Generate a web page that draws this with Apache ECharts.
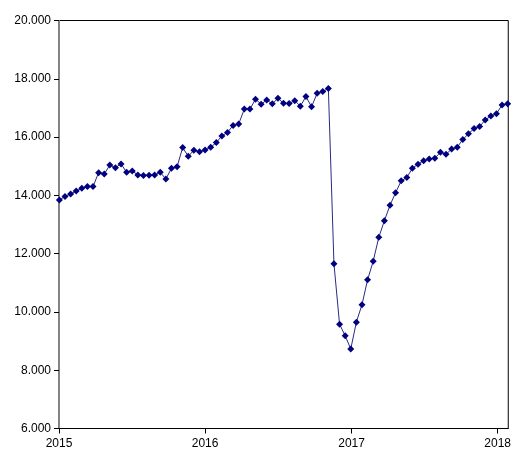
<!DOCTYPE html>
<html>
<head>
<meta charset="utf-8">
<script src="https://cdn.jsdelivr.net/npm/echarts@6/dist/echarts.min.js"></script>
<style>html,body{margin:0;padding:0;background:#fff}#c{width:514px;height:453px}</style>
</head>
<body>
<div id="c"></div>
<script>
const dates = [
 '2015-01-02','2015-01-16','2015-01-30','2015-02-13','2015-02-27','2015-03-13','2015-03-27','2015-04-10','2015-04-24','2015-05-08',
 '2015-05-22','2015-06-05','2015-06-19','2015-07-03','2015-07-17','2015-07-31','2015-08-14','2015-08-28','2015-09-11','2015-09-25',
 '2015-10-09','2015-10-23','2015-11-06','2015-11-20','2015-12-04','2015-12-18','2016-01-01','2016-01-15','2016-01-29','2016-02-12',
 '2016-02-26','2016-03-11','2016-03-25','2016-04-08','2016-04-22','2016-05-06','2016-05-20','2016-06-03','2016-06-17','2016-07-01',
 '2016-07-15','2016-07-29','2016-08-12','2016-08-26','2016-09-09','2016-09-23','2016-10-07','2016-10-21','2016-11-04','2016-11-18',
 '2016-12-02','2016-12-16','2016-12-30','2017-01-13','2017-01-27','2017-02-10','2017-02-24','2017-03-10','2017-03-24','2017-04-07',
 '2017-04-21','2017-05-05','2017-05-19','2017-06-02','2017-06-16','2017-06-30','2017-07-14','2017-07-28','2017-08-11','2017-08-25',
 '2017-09-08','2017-09-22','2017-10-06','2017-10-20','2017-11-03','2017-11-17','2017-12-01','2017-12-15','2017-12-29','2018-01-12',
 '2018-01-26'
];
const values = [
 13.84,13.96,14.05,14.15,14.24,14.30,14.30,14.78,14.73,15.04,
 14.95,15.08,14.79,14.84,14.70,14.68,14.69,14.70,14.79,14.56,
 14.93,14.98,15.64,15.34,15.55,15.50,15.56,15.65,15.81,16.04,
 16.16,16.40,16.45,16.96,16.96,17.30,17.13,17.27,17.14,17.33,
 17.16,17.15,17.25,17.06,17.39,17.04,17.50,17.56,17.67,11.65,
 9.58,9.18,8.73,9.65,10.25,11.10,11.74,12.56,13.13,13.66,
 14.09,14.50,14.61,14.93,15.07,15.19,15.25,15.27,15.48,15.41,
 15.59,15.65,15.92,16.11,16.29,16.36,16.59,16.72,16.80,17.10,
 17.14
];
const yearTicks = ['2015','2016','2017','2018'];

const chart = echarts.init(document.getElementById('c'), null, {renderer:'canvas'});
const DAY = 86400000;
chart.setOption({
  animation: false,
  grid: {left: 59, right: 4.5, top: 20.5, bottom: 24.5, show: true, borderColor: '#000', borderWidth: 1, backgroundColor: 'transparent'},
  xAxis: {
    type: 'time',
    min: new Date(yearTicks[0] + '-01-01T00:00:00').getTime(),
    max: new Date('2018-01-27T12:00:00').getTime(),
    minInterval: 365 * DAY,
    maxInterval: 366 * DAY,
    splitLine: {show: false},
    axisLine: {lineStyle: {color: '#000', width: 1}},
    axisTick: {show: true, inside: false, length: 5, lineStyle: {color: '#000'}},
    axisLabel: {
      color: '#000', fontFamily: 'Liberation Sans, Arial, sans-serif', fontSize: 12, margin: 9,
      showMinLabel: true, showMaxLabel: false,
      formatter: function (v) { return String(new Date(v).getFullYear()); }
    }
  },
  yAxis: {
    type: 'value', min: 6, max: 20, interval: 2,
    splitLine: {show: false},
    axisLine: {show: true, lineStyle: {color: '#888', width: 1}},
    axisTick: {show: true, length: 5, lineStyle: {color: '#000'}},
    axisLabel: {
      color: '#000', fontFamily: 'Liberation Sans, Arial, sans-serif', fontSize: 12, margin: 8,
      formatter: function (v) { return v.toFixed(3); }
    }
  },
  series: [{
    type: 'line',
    data: dates.map((d, i) => [d, values[i]]),
    symbol: 'diamond',
    symbolSize: 7,
    showAllSymbol: true,
    clip: false,
    lineStyle: {color: '#2a2a80', width: 1},
    itemStyle: {color: '#000080'}
  }]
});
</script>
</body>
</html>
